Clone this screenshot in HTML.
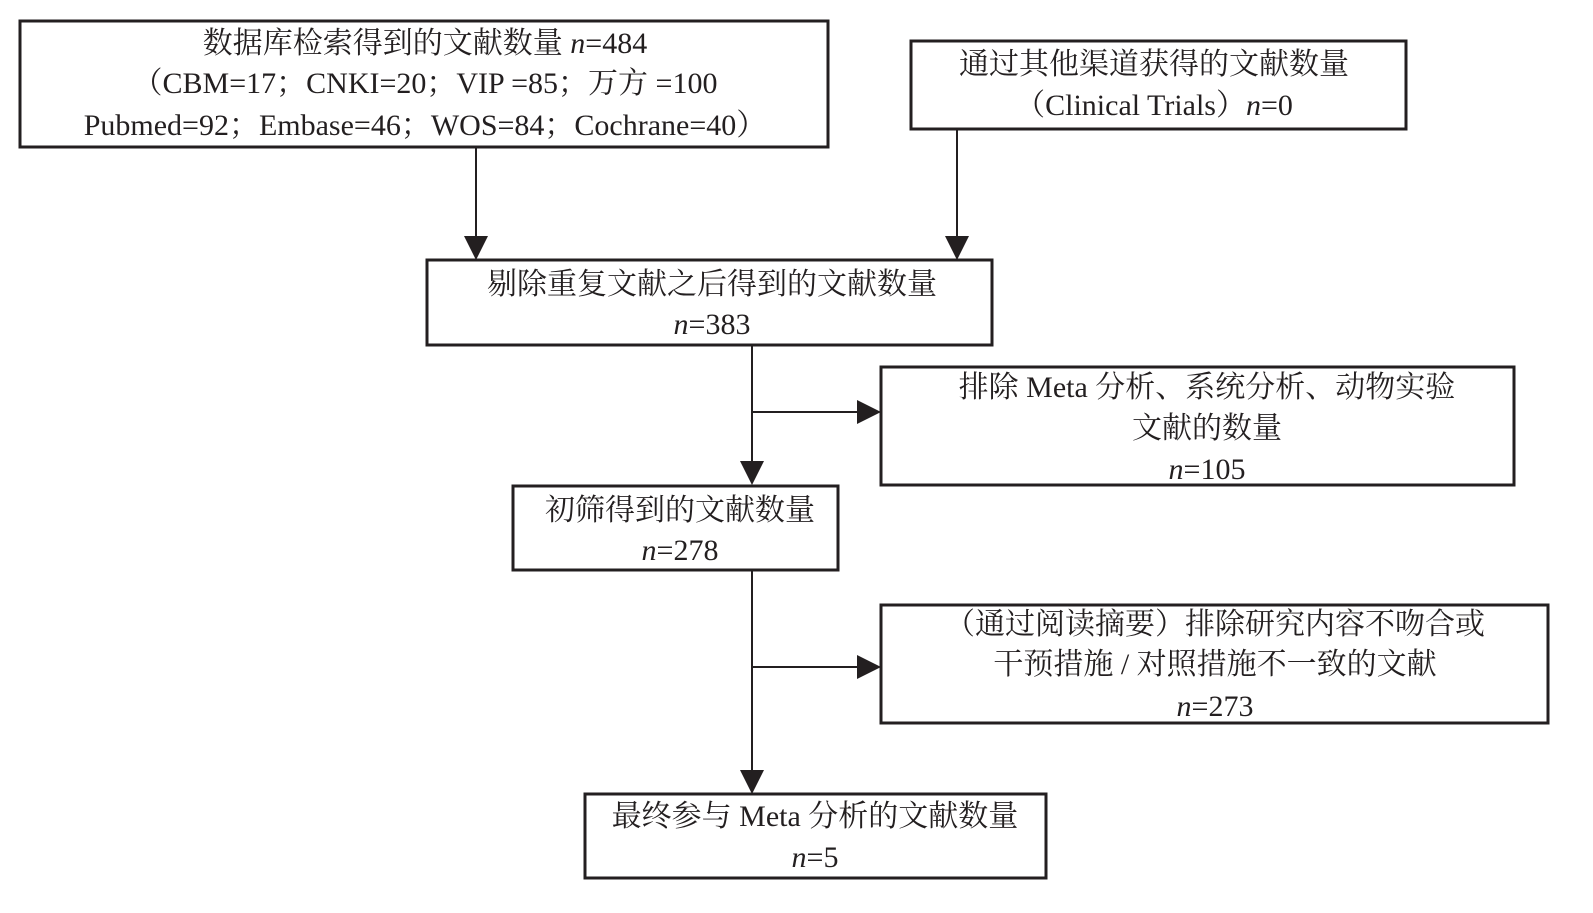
<!DOCTYPE html>
<html><head><meta charset="utf-8">
<style>
html,body{margin:0;padding:0;background:#fff;}
svg{display:block;}
text{font-family:"Liberation Serif","Noto Serif CJK SC",serif;font-size:30px;fill:#231f20;}
</style></head>
<body>
<svg width="1593" height="913" viewBox="0 0 1593 913" xmlns="http://www.w3.org/2000/svg">
<g fill="none" stroke="#231f20" stroke-width="3">
<rect x="20" y="21" width="808" height="126"/>
<rect x="911" y="41" width="495" height="88"/>
<rect x="427" y="260" width="565" height="85"/>
<rect x="881" y="367" width="633" height="118"/>
<rect x="513" y="486" width="325" height="84"/>
<rect x="881" y="605" width="667" height="118"/>
<rect x="585" y="794" width="461" height="84"/>
</g>
<g stroke="#231f20" stroke-width="2" fill="none">
<line x1="476" y1="148" x2="476" y2="238"/>
<line x1="957" y1="129" x2="957" y2="238"/>
<line x1="752" y1="345" x2="752" y2="463"/>
<line x1="752" y1="412" x2="860" y2="412"/>
<line x1="752" y1="570" x2="752" y2="772"/>
<line x1="752" y1="667" x2="860" y2="667"/>
</g>
<g fill="#231f20">
<polygon points="464,236 488,236 476,260"/>
<polygon points="945,236 969,236 957,260"/>
<polygon points="740,461 764,461 752,485"/>
<polygon points="740,770 764,770 752,794"/>
<polygon points="857,400 857,424 881,412"/>
<polygon points="857,655 857,679 881,667"/>
</g>
<g text-anchor="middle">
<text x="425" y="53">数据库检索得到的文献数量 <tspan font-style="italic">n</tspan>=484</text>
<text x="425" y="93">（CBM=17；CNKI=20；VIP =85；万方 =100</text>
<text x="425" y="135">Pubmed=92；Embase=46；WOS=84；Cochrane=40）</text>
<text x="1154" y="74">通过其他渠道获得的文献数量</text>
<text x="1154" y="115">（Clinical Trials）<tspan font-style="italic">n</tspan>=0</text>
<text x="712" y="294">剔除重复文献之后得到的文献数量</text>
<text x="712" y="334"><tspan font-style="italic">n</tspan>=383</text>
<text x="1207" y="397">排除 Meta 分析、系统分析、动物实验</text>
<text x="1207" y="438">文献的数量</text>
<text x="1207" y="479"><tspan font-style="italic">n</tspan>=105</text>
<text x="680" y="520">初筛得到的文献数量</text>
<text x="680" y="560"><tspan font-style="italic">n</tspan>=278</text>
<text x="1215" y="634">（通过阅读摘要）排除研究内容不吻合或</text>
<text x="1215" y="674">干预措施 / 对照措施不一致的文献</text>
<text x="1215" y="716"><tspan font-style="italic">n</tspan>=273</text>
<text x="815" y="826">最终参与 Meta 分析的文献数量</text>
<text x="815" y="867"><tspan font-style="italic">n</tspan>=5</text>
</g>
</svg>
</body></html>
